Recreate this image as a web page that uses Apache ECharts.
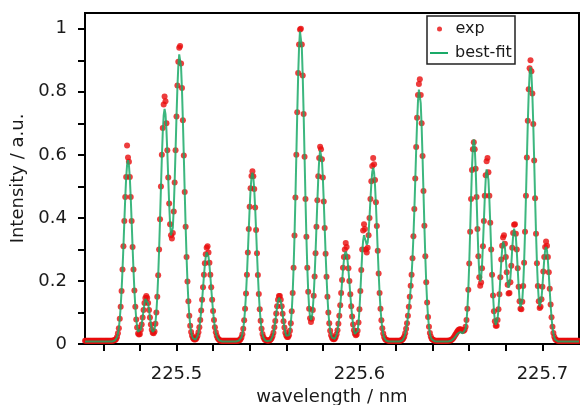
<!DOCTYPE html>
<html>
<head>
<meta charset="utf-8">
<script src="https://cdn.jsdelivr.net/npm/echarts@6/dist/echarts.min.js"></script>
<style>
  html, body { margin: 0; padding: 0; background: #fff; }
  #chart { width: 580px; height: 405px; }
</style>
</head>
<body>
<div id="chart"></div>
<script>
// wavelength sampling of the spectrum (nm)
const wlStart = 225.45;
const wlStep = 0.0005;

// best-fit intensity, one value per sample
const fitIntensity = [
0.008,0.008,0.008,0.008,0.008,0.008,0.008,0.008,0.008,0.008,
0.008,0.008,0.008,0.008,0.008,0.008,0.008,0.008,0.008,0.008,
0.008,0.008,0.008,0.008,0.008,0.008,0.008,0.008,0.008,0.008,
0.008,0.009,0.010,0.012,0.015,0.022,0.033,0.051,0.079,0.118,
0.170,0.235,0.309,0.388,0.464,0.527,0.568,0.583,0.568,0.527,
0.464,0.388,0.309,0.235,0.170,0.119,0.080,0.054,0.039,0.034,
0.036,0.047,0.063,0.084,0.107,0.128,0.143,0.148,0.143,0.128,
0.108,0.085,0.064,0.047,0.038,0.038,0.046,0.067,0.100,0.149,
0.215,0.298,0.393,0.494,0.591,0.671,0.725,0.746,0.729,0.680,
0.608,0.525,0.445,0.382,0.345,0.340,0.369,0.429,0.515,0.615,
0.719,0.812,0.882,0.919,0.919,0.879,0.807,0.709,0.598,0.483,
0.374,0.278,0.199,0.137,0.092,0.060,0.039,0.026,0.018,0.014,
0.013,0.014,0.018,0.025,0.036,0.052,0.075,0.104,0.138,0.177,
0.216,0.251,0.277,0.291,0.291,0.277,0.251,0.216,0.177,0.138,
0.104,0.075,0.052,0.036,0.025,0.018,0.014,0.011,0.009,0.009,
0.008,0.008,0.008,0.008,0.008,0.008,0.008,0.008,0.008,0.008,
0.008,0.008,0.008,0.008,0.008,0.008,0.008,0.009,0.010,0.011,
0.015,0.021,0.031,0.048,0.074,0.110,0.159,0.219,0.288,0.362,
0.432,0.490,0.529,0.543,0.529,0.490,0.432,0.362,0.288,0.219,
0.159,0.110,0.074,0.048,0.031,0.021,0.015,0.011,0.010,0.009,
0.009,0.009,0.010,0.012,0.017,0.024,0.035,0.052,0.072,0.095,
0.118,0.136,0.147,0.147,0.136,0.118,0.095,0.072,0.052,0.036,
0.026,0.021,0.021,0.028,0.042,0.066,0.104,0.161,0.240,0.340,
0.461,0.595,0.730,0.850,0.942,0.992,0.992,0.942,0.850,0.730,
0.595,0.462,0.341,0.243,0.167,0.115,0.086,0.076,0.085,0.111,
0.155,0.215,0.288,0.370,0.453,0.527,0.584,0.614,0.614,0.584,
0.527,0.453,0.370,0.288,0.215,0.151,0.102,0.067,0.043,0.029,
0.020,0.015,0.014,0.016,0.021,0.030,0.043,0.063,0.088,0.120,
0.157,0.197,0.234,0.265,0.286,0.293,0.286,0.265,0.234,0.197,
0.157,0.120,0.088,0.063,0.044,0.032,0.027,0.029,0.041,0.067,
0.108,0.164,0.227,0.286,0.328,0.345,0.341,0.325,0.315,0.322,
0.352,0.401,0.457,0.509,0.546,0.559,0.544,0.504,0.444,0.372,
0.296,0.225,0.163,0.113,0.076,0.050,0.032,0.021,0.015,0.011,
0.010,0.009,0.008,0.008,0.008,0.008,0.008,0.008,0.008,0.008,
0.008,0.008,0.008,0.008,0.008,0.009,0.010,0.012,0.016,0.022,
0.032,0.046,0.064,0.086,0.111,0.141,0.176,0.218,0.272,0.340,
0.423,0.517,0.613,0.702,0.771,0.807,0.805,0.763,0.689,0.591,
0.482,0.374,0.277,0.195,0.132,0.086,0.054,0.034,0.022,0.015,
0.012,0.010,0.009,0.008,0.008,0.008,0.008,0.008,0.008,0.008,
0.008,0.008,0.008,0.008,0.008,0.008,0.008,0.008,0.009,0.009,
0.010,0.012,0.014,0.017,0.020,0.024,0.028,0.032,0.035,0.037,
0.038,0.038,0.036,0.034,0.034,0.037,0.048,0.071,0.110,0.171,
0.254,0.355,0.461,0.557,0.624,0.649,0.625,0.561,0.469,0.371,
0.285,0.225,0.199,0.209,0.250,0.314,0.389,0.463,0.522,0.554,
0.554,0.521,0.460,0.383,0.300,0.222,0.157,0.107,0.075,0.061,
0.062,0.080,0.112,0.156,0.208,0.260,0.301,0.325,0.327,0.307,
0.271,0.230,0.196,0.178,0.183,0.209,0.252,0.301,0.343,0.366,
0.365,0.339,0.293,0.238,0.184,0.141,0.117,0.115,0.138,0.186,
0.259,0.354,0.465,0.584,0.698,0.793,0.856,0.878,0.856,0.793,
0.698,0.584,0.465,0.354,0.260,0.188,0.141,0.119,0.121,0.144,
0.181,0.226,0.268,0.298,0.308,0.297,0.265,0.220,0.170,0.122,
0.083,0.053,0.033,0.021,0.014,0.011,0.009,0.008,0.008,0.008,
0.008,0.008,0.008,0.008,0.008,0.008,0.008,0.008,0.008,0.008,
0.008,0.008,0.008,0.008,0.008,0.008,0.008,0.008,0.008,0.008,
0.008
];

// measured (exp) intensity, same sampling
const expIntensity = [
0.010,0.010,0.010,0.010,0.010,0.010,0.010,0.010,0.010,0.010,
0.010,0.010,0.010,0.010,0.010,0.010,0.010,0.010,0.010,0.010,
0.010,0.010,0.010,0.010,0.010,0.010,0.010,0.010,0.010,0.010,
0.010,0.011,0.012,0.013,0.016,0.022,0.034,0.050,0.080,0.118,
0.168,0.236,0.310,0.390,0.466,0.530,0.630,0.592,0.578,0.530,
0.466,0.390,0.308,0.236,0.170,0.118,0.078,0.052,0.033,0.030,
0.032,0.045,0.062,0.084,0.108,0.130,0.146,0.152,0.146,0.130,
0.108,0.084,0.062,0.045,0.036,0.034,0.040,0.064,0.100,0.150,
0.218,0.300,0.396,0.500,0.600,0.685,0.760,0.785,0.770,0.700,
0.615,0.528,0.446,0.380,0.345,0.335,0.352,0.420,0.512,0.615,
0.722,0.820,0.895,0.940,0.945,0.890,0.812,0.710,0.598,0.482,
0.372,0.276,0.198,0.136,0.090,0.058,0.038,0.026,0.019,0.015,
0.014,0.015,0.019,0.026,0.037,0.053,0.076,0.106,0.140,0.180,
0.220,0.256,0.285,0.305,0.310,0.290,0.258,0.220,0.180,0.140,
0.105,0.076,0.053,0.037,0.026,0.019,0.015,0.012,0.011,0.010,
0.010,0.010,0.010,0.010,0.010,0.010,0.010,0.010,0.010,0.010,
0.010,0.010,0.010,0.010,0.010,0.010,0.010,0.010,0.011,0.012,
0.015,0.021,0.031,0.048,0.075,0.112,0.160,0.220,0.290,0.365,
0.435,0.494,0.533,0.548,0.532,0.492,0.433,0.362,0.288,0.219,
0.159,0.110,0.074,0.048,0.032,0.022,0.016,0.013,0.012,0.011,
0.011,0.011,0.012,0.014,0.018,0.025,0.036,0.053,0.073,0.097,
0.120,0.140,0.152,0.152,0.140,0.120,0.096,0.072,0.052,0.036,
0.027,0.022,0.022,0.028,0.042,0.066,0.104,0.162,0.242,0.344,
0.465,0.600,0.735,0.860,0.950,0.998,1.000,0.950,0.852,0.730,
0.594,0.460,0.340,0.242,0.166,0.112,0.082,0.070,0.080,0.108,
0.153,0.214,0.288,0.372,0.456,0.532,0.590,0.626,0.618,0.586,
0.528,0.452,0.368,0.286,0.213,0.150,0.100,0.066,0.042,0.028,
0.020,0.016,0.015,0.017,0.022,0.031,0.044,0.064,0.090,0.123,
0.162,0.203,0.242,0.276,0.300,0.320,0.308,0.276,0.240,0.200,
0.158,0.120,0.087,0.062,0.044,0.033,0.028,0.030,0.042,0.068,
0.110,0.168,0.235,0.300,0.360,0.380,0.365,0.300,0.290,0.305,
0.345,0.400,0.460,0.516,0.565,0.590,0.570,0.520,0.450,0.374,
0.296,0.224,0.162,0.112,0.075,0.050,0.033,0.022,0.016,0.013,
0.012,0.011,0.010,0.010,0.010,0.010,0.010,0.010,0.010,0.010,
0.010,0.010,0.010,0.010,0.010,0.011,0.012,0.014,0.018,0.024,
0.034,0.048,0.066,0.090,0.118,0.150,0.185,0.220,0.272,0.342,
0.428,0.525,0.625,0.718,0.790,0.825,0.840,0.790,0.700,0.596,
0.485,0.375,0.278,0.196,0.132,0.086,0.055,0.035,0.024,0.017,
0.014,0.012,0.011,0.010,0.010,0.010,0.010,0.010,0.010,0.010,
0.010,0.010,0.010,0.010,0.010,0.010,0.010,0.010,0.011,0.011,
0.012,0.014,0.017,0.021,0.025,0.030,0.035,0.040,0.044,0.046,
0.047,0.046,0.044,0.042,0.042,0.045,0.055,0.076,0.112,0.172,
0.255,0.356,0.460,0.552,0.618,0.640,0.618,0.556,0.466,0.365,
0.278,0.212,0.185,0.195,0.240,0.310,0.390,0.470,0.535,0.580,
0.590,0.545,0.470,0.385,0.300,0.220,0.154,0.104,0.072,0.058,
0.058,0.076,0.110,0.158,0.212,0.268,0.312,0.338,0.345,0.318,
0.276,0.228,0.188,0.160,0.162,0.196,0.248,0.305,0.352,0.378,
0.380,0.350,0.300,0.240,0.182,0.136,0.112,0.110,0.134,0.184,
0.258,0.356,0.470,0.592,0.708,0.808,0.875,0.900,0.865,0.795,
0.698,0.582,0.462,0.350,0.256,0.184,0.136,0.114,0.118,0.142,
0.182,0.230,0.276,0.308,0.325,0.312,0.276,0.228,0.175,0.125,
0.085,0.055,0.035,0.023,0.016,0.013,0.011,0.010,0.010,0.010,
0.010,0.010,0.010,0.010,0.010,0.010,0.010,0.010,0.010,0.010,
0.010,0.010,0.010,0.010,0.010,0.010,0.010,0.010,0.010,0.010,
0.010
];

// axis ticks and labels
const xLabelValues = [225.5, 225.6, 225.7];
const xTickValues = [225.46, 225.48, 225.50, 225.52, 225.54, 225.56, 225.58, 225.60, 225.62, 225.64, 225.66, 225.68, 225.70];
const yLabelValues = [0, 0.2, 0.4, 0.6, 0.8, 1];
const yTickValues = [0, 0.1, 0.2, 0.3, 0.4, 0.5, 0.6, 0.7, 0.8, 0.9, 1.0];
const seriesNames = ['exp', 'best-fit'];

const wavelengths = fitIntensity.map((_, i) => +(wlStart + i * wlStep).toFixed(4));
const FONT = 'DejaVu Sans';
const TXT = '#1a1a1a';
const RED = '#e80c0c';
const GREEN = '#1aaa68';

const chart = echarts.init(document.getElementById('chart'), null, { renderer: 'canvas' });
chart.setOption({
  animation: false,
  backgroundColor: '#fff',
  grid: {
    left: 85, right: 1, top: 13, bottom: 61,
    containLabel: false, outerBoundsMode: 'none',
    show: true, borderColor: '#000', borderWidth: 2, backgroundColor: 'transparent'
  },
  graphic: [{
    type: 'rect', z: 3,
    shape: { x: 427, y: 16, width: 88, height: 48 },
    style: { fill: '#fff', stroke: '#222', lineWidth: 1.5 }
  }],
  legend: [
    {
      orient: 'vertical', left: 437, top: 21, padding: 0, z: 5,
      itemWidth: 18, itemHeight: 5,
      textStyle: { fontSize: 16, color: TXT, fontFamily: FONT, padding: [0, 0, 0, 2] },
      data: [{ name: seriesNames[0], icon: 'circle', itemStyle: { color: RED } }]
    },
    {
      orient: 'vertical', left: 430, top: 45, padding: 0, z: 5,
      itemWidth: 18, itemHeight: 2,
      textStyle: { fontSize: 16, color: TXT, fontFamily: FONT, padding: [0, 0, 0, 2] },
      data: [{ name: seriesNames[1], icon: 'rect', itemStyle: { color: GREEN } }]
    }
  ],
  xAxis: {
    type: 'value', min: 225.45, max: 225.72,
    name: 'wavelength / nm', nameLocation: 'middle', nameGap: 40,
    nameTextStyle: { fontSize: 18, color: TXT, fontFamily: FONT },
    axisLine: { onZero: false, lineStyle: { color: '#000', width: 2 } },
    axisTick: { customValues: xTickValues, length: 7, lineStyle: { color: '#000', width: 2 } },
    axisLabel: { customValues: xLabelValues, formatter: v => v.toFixed(1), fontSize: 18, color: TXT, fontFamily: FONT, margin: 21 },
    splitLine: { show: false }
  },
  yAxis: {
    type: 'value', min: 0, max: 1.05,
    name: 'Intensity / a.u.', nameLocation: 'middle', nameGap: 47,
    nameTextStyle: { fontSize: 18, color: TXT, fontFamily: FONT },
    axisLine: { lineStyle: { color: '#000', width: 2 } },
    axisTick: { customValues: yTickValues, length: 7, lineStyle: { color: '#000', width: 2 } },
    axisLabel: { customValues: yLabelValues, formatter: v => String(+v.toFixed(1)), fontSize: 18, color: TXT, fontFamily: FONT, margin: 18 },
    splitLine: { show: false }
  },
  series: [
    {
      name: seriesNames[0], type: 'scatter', z: 2,
      data: wavelengths.map((x, i) => [x, expIntensity[i]]),
      symbol: 'circle', symbolSize: 6,
      itemStyle: { color: RED }
    },
    {
      name: seriesNames[1], type: 'line', z: 3,
      data: wavelengths.map((x, i) => [x, fitIntensity[i]]),
      symbol: 'none', showSymbol: false,
      lineStyle: { color: GREEN, width: 2, opacity: 0.85 },
      itemStyle: { color: GREEN }
    }
  ]
});
</script>
</body>
</html>
